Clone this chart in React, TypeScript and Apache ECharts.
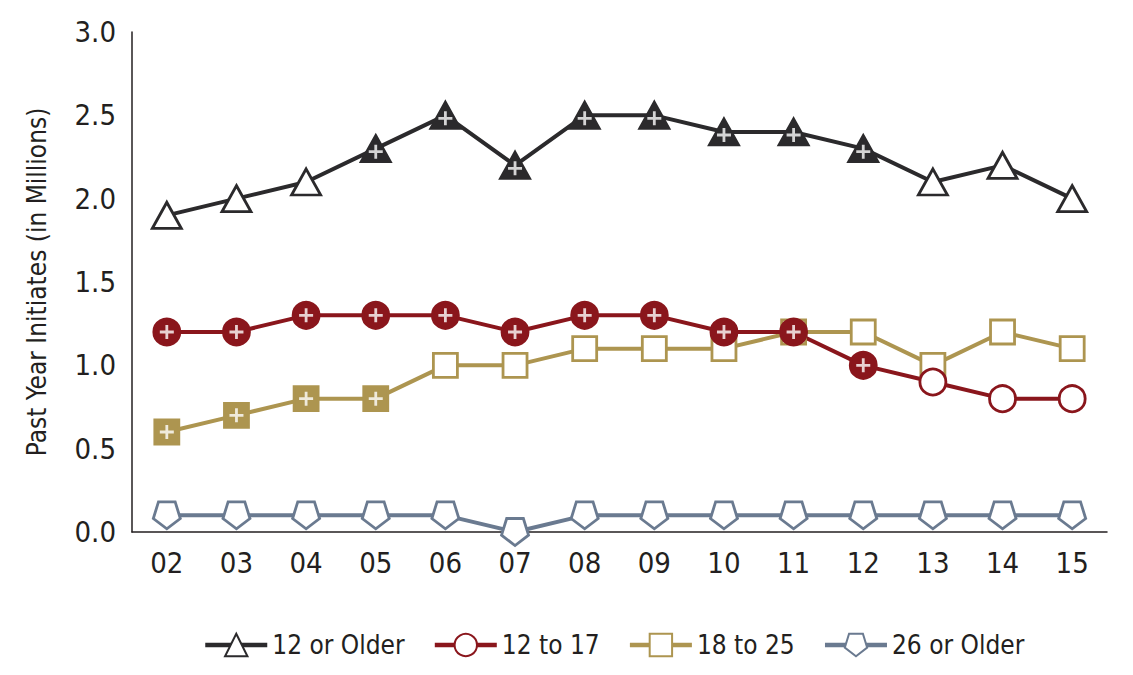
import React, { useEffect, useRef } from "react";
import * as echarts from "echarts";

const years = ["02", "03", "04", "05", "06", "07", "08", "09", "10", "11", "12", "13", "14", "15"];
const yTicks = [0, 0.5, 1, 1.5, 2, 2.5, 3];

const older12 = [1.9, 2.0, 2.1, 2.3, 2.5, 2.2, 2.5, 2.5, 2.4, 2.4, 2.3, 2.1, 2.2, 2.0];
const older12Sig = [0, 0, 0, 1, 1, 1, 1, 1, 1, 1, 1, 0, 0, 0];
const age12to17 = [1.2, 1.2, 1.3, 1.3, 1.3, 1.2, 1.3, 1.3, 1.2, 1.2, 1.0, 0.9, 0.8, 0.8];
const age12to17Sig = [1, 1, 1, 1, 1, 1, 1, 1, 1, 1, 1, 0, 0, 0];
const age18to25 = [0.6, 0.7, 0.8, 0.8, 1.0, 1.0, 1.1, 1.1, 1.1, 1.2, 1.2, 1.0, 1.2, 1.1];
const age18to25Sig = [1, 1, 1, 1, 0, 0, 0, 0, 0, 0, 0, 0, 0, 0];
const older26 = [0.1, 0.1, 0.1, 0.1, 0.1, 0.0, 0.1, 0.1, 0.1, 0.1, 0.1, 0.1, 0.1, 0.1];
const older26Sig = [0, 0, 0, 0, 0, 0, 0, 0, 0, 0, 0, 0, 0, 0];

const seriesNames = ["12 or Older", "12 to 17", "18 to 25", "26 or Older"];
const FONT = "'DejaVu Sans Condensed', 'Liberation Sans', sans-serif";

const PENTAGON = "path://M-0.588,-0.809L0.588,-0.809L0.951,0.309L0,1L-0.951,0.309Z";
const PLUS = "path://M-1,-0.2H-0.2V-1H0.2V-0.2H1V0.2H0.2V1H-0.2V0.2H-1Z";

export default function App() {
  const ref = useRef<HTMLDivElement>(null);
  useEffect(() => {
    if (!ref.current) return;
    const chart = echarts.init(ref.current, undefined, { renderer: "svg" });
    const groups = [
      { name: seriesNames[3], data: older26, sig: older26Sig, color: "#6a7a90", symbol: PENTAGON, size: 27, plusOffset: [0, 0] },
      { name: seriesNames[2], data: age18to25, sig: age18to25Sig, color: "#ad9550", symbol: "rect", size: 24, plusOffset: [0, 0] },
      { name: seriesNames[1], data: age12to17, sig: age12to17Sig, color: "#8a161c", symbol: "circle", size: 26, plusOffset: [0, 0] },
      { name: seriesNames[0], data: older12, sig: older12Sig, color: "#2b2a2c", symbol: "triangle", size: [29, 26], plusOffset: [0, 3] },
    ];
    const series: any[] = [];
    groups.forEach((g) => {
      series.push({
        name: g.name,
        type: "line",
        data: g.data.map((v, i) => ({
          value: v,
          itemStyle: { color: g.sig[i] ? g.color : "#ffffff" },
        })),
        symbol: g.symbol,
        symbolSize: g.size,
        lineStyle: { color: g.color, width: 4 },
        itemStyle: { color: "#ffffff", borderColor: g.color, borderWidth: 2.8 },
        z: 2,
      });
    });
    groups.forEach((g) => {
      series.push({
        name: g.name + " sig",
        type: "scatter",
        data: g.data.map((v, i) => (g.sig[i] ? v : "-")),
        symbol: PLUS,
        symbolSize: 14,
        symbolOffset: g.plusOffset,
        itemStyle: { color: "#ffffff" },
        z: 5,
        silent: true,
      });
    });
    chart.setOption({
      animation: false,
      grid: { left: 132, right: 26, top: 32, bottom: 143 },
      legend: {
        data: seriesNames,
        left: 198,
        top: 627,
        itemWidth: 62,
        itemHeight: 28,
        itemGap: 28,
        lineStyle: { width: 4.5 },
        textStyle: { fontFamily: FONT, fontSize: 26, color: "#231f20" },
      },
      xAxis: {
        type: "category",
        data: years,
        axisLine: { lineStyle: { color: "#231f20", width: 1.5 } },
        axisTick: { show: false },
        axisLabel: { fontFamily: FONT, fontSize: 29, color: "#231f20", margin: 16 },
      },
      yAxis: {
        type: "value",
        min: yTicks[0],
        max: yTicks[yTicks.length - 1],
        interval: 0.5,
        name: "Past Year Initiates (in Millions)",
        nameLocation: "middle",
        nameGap: 82,
        nameTextStyle: { fontFamily: FONT, fontSize: 26, color: "#231f20" },
        axisLine: { show: true, lineStyle: { color: "#231f20", width: 1.5 } },
        axisTick: { show: false },
        splitLine: { show: false },
        axisLabel: {
          fontFamily: FONT,
          fontSize: 29,
          color: "#231f20",
          margin: 16,
          formatter: (v: number) => v.toFixed(1),
        },
      },
      series,
    });
    return () => chart.dispose();
  }, []);
  return (
    <div
      ref={ref}
      style={{ position: "absolute", left: 0, top: 0, width: 1133, height: 675, background: "#ffffff" }}
    />
  );
}
